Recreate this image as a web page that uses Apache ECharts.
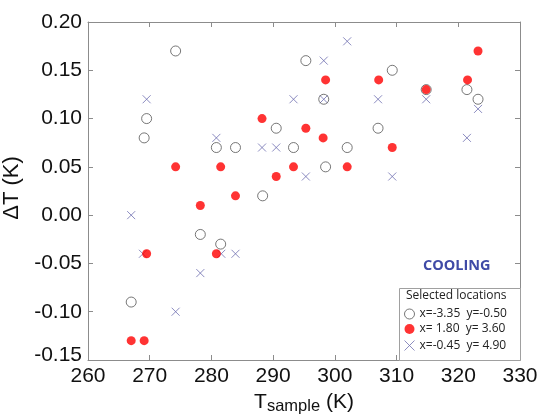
<!DOCTYPE html>
<html>
<head>
<meta charset="utf-8">
<script src="https://cdn.jsdelivr.net/npm/echarts@6/dist/echarts.min.js"></script>
<style>
html, body { margin: 0; padding: 0; background: #fff; }
#main { width: 538px; height: 415px; }
</style>
</head>
<body>
<div id="main"></div>
<script>
// data: [T_sample (K), dT (K)]
var openCircle = [
  [274.2, 0.17], [269.5, 0.10], [269.1, 0.08], [280.8, 0.07], [283.9, 0.07],
  [295.3, 0.16], [309.3, 0.15], [298.2, 0.12], [290.5, 0.09], [307.0, 0.09],
  [293.3, 0.07], [302.0, 0.07], [298.5, 0.05], [314.8, 0.13], [321.4, 0.13],
  [323.2, 0.12], [278.2, -0.02], [281.5, -0.03], [267.0, -0.09], [288.3, 0.02]
];
var redDot = [
  [274.2, 0.05], [281.5, 0.05], [298.5, 0.14], [307.1, 0.14], [288.2, 0.10],
  [295.3, 0.09], [298.1, 0.08], [309.3, 0.07], [293.3, 0.05], [302.0, 0.05],
  [290.5, 0.04], [323.2, 0.17], [321.5, 0.14], [314.8, 0.13], [283.9, 0.02],
  [278.2, 0.01], [269.5, -0.04], [280.8, -0.04], [267.0, -0.13], [269.1, -0.13]
];
var crossMark = [
  [269.5, 0.12], [280.8, 0.08], [302.0, 0.18], [298.2, 0.16], [293.3, 0.12],
  [298.2, 0.12], [307.0, 0.12], [288.2, 0.07], [290.5, 0.07], [295.3, 0.04],
  [314.8, 0.12], [323.2, 0.11], [321.4, 0.08], [309.3, 0.04], [267.0, 0.00],
  [268.9, -0.04], [281.6, -0.04], [283.9, -0.04], [278.2, -0.06], [274.2, -0.10]
];
var seriesNames = ['x=-3.35  y=-0.50', 'x= 1.80  y= 3.60', 'x=-0.45  y= 4.90'];

var myChart = echarts.init(document.getElementById('main'));

var axisGrey = '#8c8c8c';
var crossPath = 'path://M0,0L10,10M10,0L0,10';
var labelFont = 21;

var option = {
  animation: false,
  textStyle: { fontFamily: 'Liberation Sans' },
  grid: { left: 88, right: 18, top: 22, bottom: 55, outerBoundsMode: 'none', containLabel: false },
  legend: {
    orient: 'vertical',
    left: 402,
    top: 308,
    padding: 0,
    itemGap: 3,
    itemWidth: 10,
    itemHeight: 10,
    textStyle: { fontSize: 12, color: '#222', fontFamily: 'Open Sans' },
    data: [
      { name: seriesNames[0], icon: 'circle', itemStyle: { color: '#fff', borderColor: '#555', borderWidth: 1 } },
      { name: seriesNames[1], icon: 'circle' },
      { name: seriesNames[2], icon: crossPath, itemStyle: { color: 'none', borderColor: '#7070b0', borderWidth: 1 } }
    ]
  },
  graphic: [
    {
      type: 'rect', left: 399, top: 288, z: 1,
      shape: { width: 121, height: 72 },
      style: { fill: '#fff', stroke: '#a0a0a0', lineWidth: 1 }
    },
    {
      type: 'text', left: 406, top: 290, z: 100,
      style: { text: 'Selected locations', fontSize: 12, fill: '#222', fontFamily: 'Open Sans' }
    },
    {
      type: 'text', left: 423, top: 258, z: 100,
      style: { text: 'COOLING', fontSize: 14.5, fontWeight: 'bold', fill: '#3f4aa6', fontFamily: 'Open Sans' }
    }
  ],
  xAxis: [
    {
      type: 'value', min: 260, max: 330, interval: 10,
      name: '{t|T}{s|sample}{t| (K)}',
      nameLocation: 'middle', nameGap: 28,
      nameTextStyle: {
        rich: {
          t: { fontSize: 21, color: '#111', fontFamily: 'Liberation Sans' },
          s: { fontSize: 16.5, color: '#111', fontFamily: 'Liberation Sans', padding: [9, 0, 0, 0] }
        }
      },
      axisLine: { onZero: false, lineStyle: { color: axisGrey } },
      axisTick: { inside: true, length: 5, lineStyle: { color: axisGrey } },
      axisLabel: { fontSize: labelFont, color: '#111', margin: 6 },
      splitLine: { show: false }
    },
    {
      type: 'value', position: 'top', min: 260, max: 330, interval: 10,
      axisLine: { onZero: false, lineStyle: { color: axisGrey } },
      axisTick: { inside: true, length: 5, lineStyle: { color: axisGrey } },
      axisLabel: { show: false },
      splitLine: { show: false }
    }
  ],
  yAxis: [
    {
      type: 'value', min: -0.15, max: 0.20, interval: 0.05,
      name: 'ΔT (K)',
      nameLocation: 'middle', nameGap: 55, nameRotate: 90,
      nameTextStyle: { fontSize: 22, color: '#111', padding: [0, 0, 0, 6] },
      axisLine: { onZero: false, lineStyle: { color: axisGrey } },
      axisTick: { inside: true, length: 5, lineStyle: { color: axisGrey } },
      axisLabel: {
        fontSize: labelFont, color: '#111', margin: 6,
        formatter: function (v) {
          var s = v.toFixed(2);
          return v < -0.14 ? '{lo|' + s + '}' : s;
        },
        rich: {
          lo: { fontSize: labelFont, color: '#111', padding: [0, 0, 10, 0] }
        }
      },
      splitLine: { show: false }
    },
    {
      type: 'value', position: 'right', min: -0.15, max: 0.20, interval: 0.05,
      axisLine: { onZero: false, lineStyle: { color: axisGrey } },
      axisTick: { inside: true, length: 5, lineStyle: { color: axisGrey } },
      axisLabel: { show: false },
      splitLine: { show: false }
    }
  ],
  series: [
    {
      name: seriesNames[0],
      type: 'scatter',
      data: openCircle,
      symbol: 'circle',
      symbolSize: 10,
      itemStyle: { color: 'rgba(255,255,255,0)', borderColor: '#555', borderWidth: 1 },
      z: 3
    },
    {
      name: seriesNames[1],
      type: 'scatter',
      data: redDot,
      symbol: 'circle',
      symbolSize: 9,
      itemStyle: { color: '#ff0000' },
      z: 4
    },
    {
      name: seriesNames[2],
      type: 'scatter',
      data: crossMark,
      symbol: crossPath,
      symbolSize: 8,
      itemStyle: { color: 'none', borderColor: '#6e6eb0', borderWidth: 1 },
      z: 2
    }
  ]
};

myChart.setOption(option);
window.onresize = function () {
  myChart.resize();
};
</script>
</body>
</html>
